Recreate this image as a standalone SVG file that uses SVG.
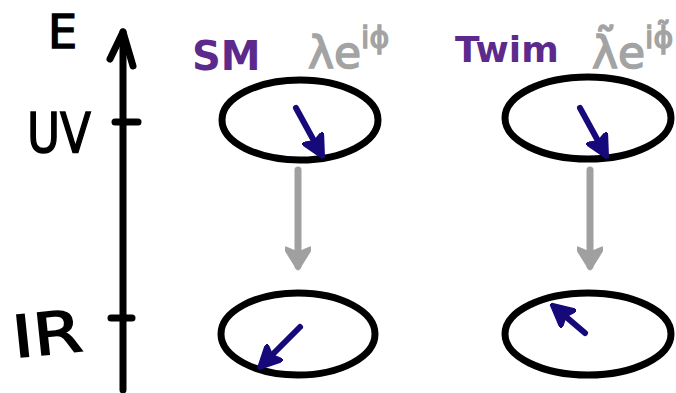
<svg xmlns="http://www.w3.org/2000/svg" width="676" height="393" viewBox="0 0 676 393">
<style>
.ax{stroke:#000;stroke-width:7;stroke-linecap:round;stroke-linejoin:round;fill:none}
.ell{fill:none;stroke:#000;stroke-width:7}
.flow{stroke:#a0a0a0;stroke-width:7;stroke-linecap:round;fill:none}
.ph{stroke:#16097a;stroke-width:6;stroke-linecap:round;fill:none}
.lbl{font-family:"DejaVu Sans","Liberation Sans",sans-serif;fill:#000;stroke:#000;stroke-width:1.5}
.grp{font-family:"DejaVu Sans","Liberation Sans",sans-serif;font-weight:bold;fill:#5b2a8c}
.cpl{font-family:"DejaVu Sans","Liberation Sans",sans-serif;fill:#a3a3a3;stroke:#a3a3a3;stroke-width:1.5}
</style>
<defs>
<marker id="gh" viewBox="0 0 10 10" refX="8" refY="5" markerWidth="3.6" markerHeight="3.6" orient="auto" markerUnits="strokeWidth">
<path d="M1,0 L9,5 L1,10 L3,5 Z" fill="#a0a0a0" stroke="#a0a0a0" stroke-width="1.5" stroke-linejoin="round"/>
</marker>
<marker id="bh" viewBox="0 0 10 10" refX="6" refY="5" markerWidth="4" markerHeight="4" orient="auto" markerUnits="strokeWidth">
<path d="M0,0 L10,5 L0,10 L2,5 Z" fill="#16097a" stroke="#16097a" stroke-width="1.2" stroke-linejoin="round"/>
</marker>
</defs>
<g id="axis">
<path class="ax" d="M123,390 L123,32"/>
<path class="ax" d="M110,59 L123,32 L133,66"/>
<path class="ax" d="M115,122 L138,122"/>
<path class="ax" d="M111,318 L132,318"/>
<text class="lbl" x="48" y="48" font-size="46">E</text>
<text class="lbl" x="27" y="152" font-size="56" textLength="64" lengthAdjust="spacingAndGlyphs">UV</text>
<text class="lbl" x="12" y="354" font-size="58" textLength="70" lengthAdjust="spacingAndGlyphs" transform="rotate(-6 50 332)">IR</text>
</g>
<g id="sm-label">
<text class="grp" x="192" y="70" font-size="40">SM</text>
<text class="cpl" x="308" y="68" font-size="44">λe<tspan dy="-20" font-size="30">iϕ</tspan></text>
</g>
<g id="twin-label">
<text class="grp" x="455" y="62" font-size="36">Twim</text>
<text class="cpl" x="592" y="68" font-size="44">λ̃e<tspan dy="-20" font-size="30">iϕ̃</tspan></text>
</g>
<g id="sm-uv">
<ellipse class="ell" cx="300" cy="120" rx="78" ry="40"/>
<path class="ph" d="M296,108 L319,150" marker-end="url(#bh)"/>
</g>
<g id="twin-uv">
<ellipse class="ell" cx="588" cy="118" rx="83" ry="41"/>
<path class="ph" d="M580,108 L603,150" marker-end="url(#bh)"/>
</g>
<g id="sm-ir">
<ellipse class="ell" cx="298" cy="334" rx="77" ry="41"/>
<path class="ph" d="M300,327 L265,362" marker-end="url(#bh)"/>
</g>
<g id="twin-ir">
<ellipse class="ell" cx="588" cy="334" rx="83" ry="41"/>
<path class="ph" d="M585,333 L558,310" marker-end="url(#bh)"/>
</g>
<g id="connectors">
<path class="flow" d="M298,170 L298,266" marker-end="url(#gh)"/>
<path class="flow" d="M590,170 L590,266" marker-end="url(#gh)"/>
</g>
</svg>
